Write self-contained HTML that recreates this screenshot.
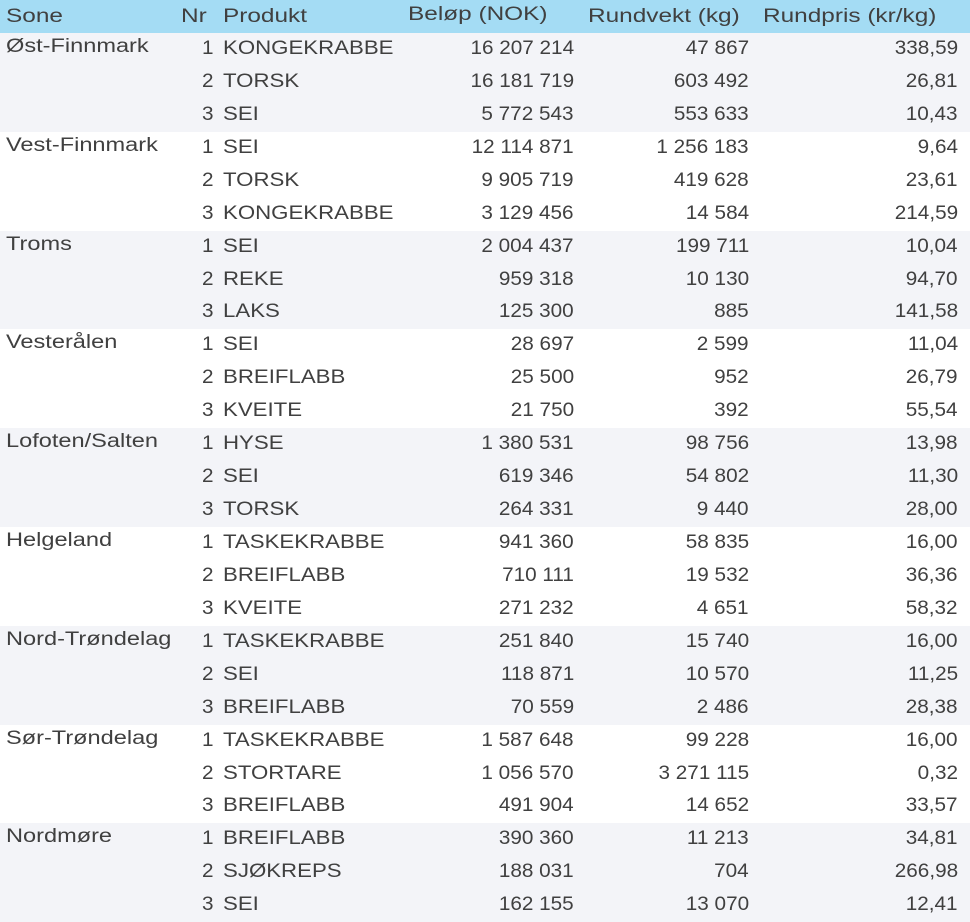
<!DOCTYPE html><html><head><meta charset="utf-8"><style>
body{margin:0;width:970px;height:922px;background:#fff;font-family:"Liberation Sans",sans-serif;color:#404040;font-size:19px;position:relative;overflow:hidden}
.h{position:absolute;left:0;top:0;width:970px;height:33px;background:#a4dcf4}
.g{position:absolute;left:0;width:970px;height:98.8px}
.t{position:absolute;white-space:nowrap;line-height:20px;transform-origin:left center}
.r{text-align:right;transform:scaleX(1.09);transform-origin:right center}
.p{transform:scaleX(1.17)}
.s{transform:scaleX(1.24)}
.hd{transform:scaleX(1.25);font-size:19.5px}
</style></head><body>
<div class="h"></div>
<div id="c"></div>
<script>
const d=[["Øst-Finnmark",[["KONGEKRABBE","16 207 214","47 867","338,59"],["TORSK","16 181 719","603 492","26,81"],["SEI","5 772 543","553 633","10,43"]]],
["Vest-Finnmark",[["SEI","12 114 871","1 256 183","9,64"],["TORSK","9 905 719","419 628","23,61"],["KONGEKRABBE","3 129 456","14 584","214,59"]]],
["Troms",[["SEI","2 004 437","199 711","10,04"],["REKE","959 318","10 130","94,70"],["LAKS","125 300","885","141,58"]]],
["Vesterålen",[["SEI","28 697","2 599","11,04"],["BREIFLABB","25 500","952","26,79"],["KVEITE","21 750","392","55,54"]]],
["Lofoten/Salten",[["HYSE","1 380 531","98 756","13,98"],["SEI","619 346","54 802","11,30"],["TORSK","264 331","9 440","28,00"]]],
["Helgeland",[["TASKEKRABBE","941 360","58 835","16,00"],["BREIFLABB","710 111","19 532","36,36"],["KVEITE","271 232","4 651","58,32"]]],
["Nord-Trøndelag",[["TASKEKRABBE","251 840","15 740","16,00"],["SEI","118 871","10 570","11,25"],["BREIFLABB","70 559","2 486","28,38"]]],
["Sør-Trøndelag",[["TASKEKRABBE","1 587 648","99 228","16,00"],["STORTARE","1 056 570","3 271 115","0,32"],["BREIFLABB","491 904","14 652","33,57"]]],
["Nordmøre",[["BREIFLABB","390 360","11 213","34,81"],["SJØKREPS","188 031","704","266,98"],["SEI","162 155","13 070","12,41"]]]];
let h='';
const T=(x,y,s,r,c)=>r?`<div class="t r" style="right:${970-x}px;top:${y}px">${s}</div>`:`<div class="t ${c||''}" style="left:${x}px;top:${y}px">${s}</div>`;
h+=T(6,6,"Sone",0,"hd")+T(181,6,"Nr",0,"hd")+T(223,6,"Produkt",0,"hd")+T(408,4,"Beløp (NOK)",0,"hd")+T(588,6,"Rundvekt (kg)",0,"hd")+T(763,6,"Rundpris (kr/kg)",0,"hd");
d.forEach((g,i)=>{const top=33+i*98.8;
if(i%2==0)h+=`<div class="g" style="top:${top}px;background:#f3f4f8"></div>`;
h+=T(6,top+4,g[0],0,"s");
g[1].forEach((r,j)=>{const y=top+6+j*32.9;
h+=T(214,y,j+1,1)+T(223,y,r[0],0,"p")+T(574,y,r[1],1)+T(749,y,r[2],1)+T(958,y,r[3],1);});});
document.getElementById('c').innerHTML=h;
</script>
</body></html>
